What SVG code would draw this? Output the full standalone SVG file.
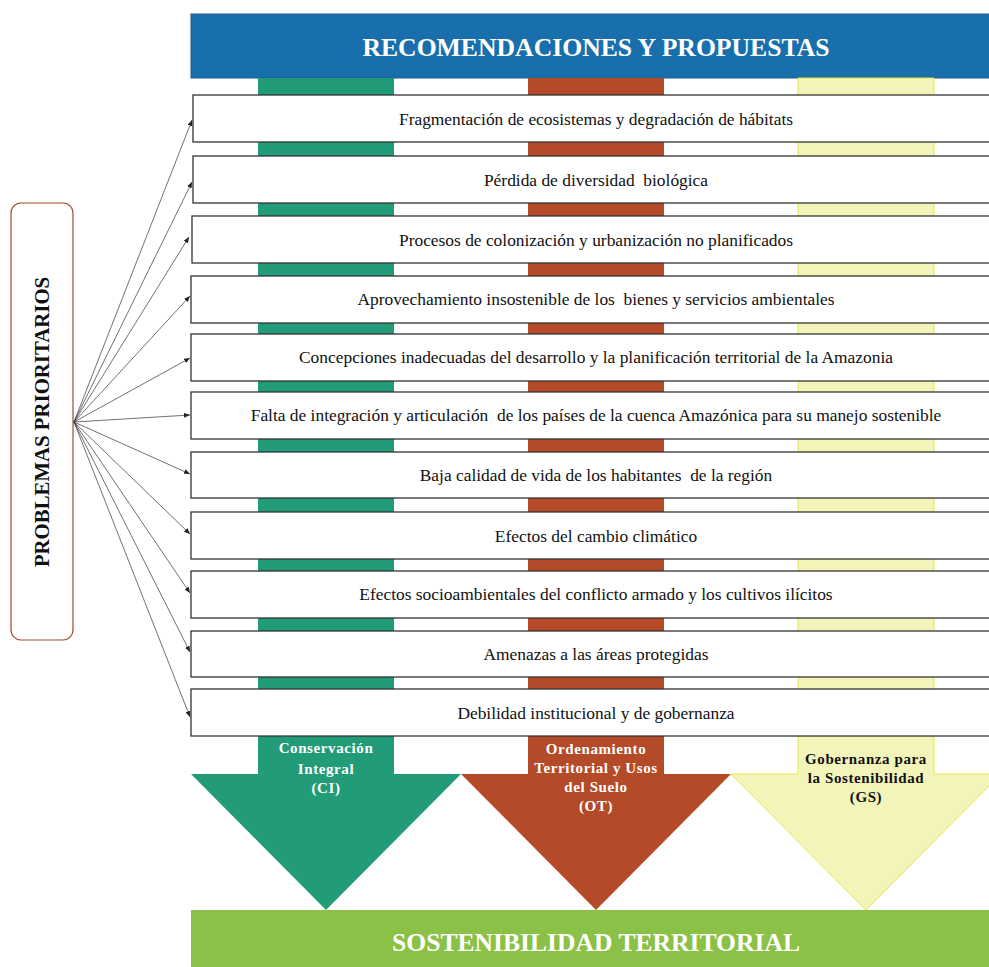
<svg xmlns="http://www.w3.org/2000/svg" width="989" height="967" viewBox="0 0 989 967">
<style>
.box{fill:#fff;stroke:#333;stroke-width:1.3}
.bt{font-family:"Liberation Serif",serif;font-size:17.4px;fill:#111;text-anchor:middle;white-space:pre}
.con{stroke:#333;stroke-width:0.7;fill:none;marker-end:url(#ah)}
.lab{font-family:"Liberation Serif",serif;font-size:15px;font-weight:bold;text-anchor:middle;letter-spacing:0.6px}
.ttl{font-family:"Liberation Serif",serif;font-weight:bold;fill:#fff;text-anchor:middle}
</style>
<defs>
<marker id="ah" markerWidth="6" markerHeight="5" refX="6" refY="2.5" orient="auto" markerUnits="userSpaceOnUse">
<path d="M0,0 L6,2.5 L0,5 z" fill="#222"/>
</marker>
</defs>
<rect width="989" height="967" fill="#fff"/>
<g id="header">
<rect x="191" y="14" width="810" height="64" fill="#186fab" stroke="#1b5e8e" stroke-width="1"/>
<text class="ttl" x="596" y="56" font-size="25.7">RECOMENDACIONES Y PROPUESTAS</text>
</g>
<g id="arrow-ci">
<polygon points="258,78 394,78 394,774 461,774 326,910 191,774 258,774" fill="#229b78"/>
</g>
<g id="arrow-ot">
<polygon points="528,78 664,78 664,774 731,774 596,910 461,774 528,774" fill="#b54a28"/>
</g>
<g id="arrow-gs">
<polygon points="798,78 934,78 934,774 1001,774 866,910 731,774 798,774" fill="#f2f4b9" stroke="#e9e54c" stroke-width="1"/>
</g>
<g id="row1"><rect class="box" x="193" y="95" width="808" height="47"/><text class="bt" x="596" y="125">Fragmentación de ecosistemas y degradación de hábitats</text></g>
<g id="row2"><rect class="box" x="193" y="156" width="808" height="47"/><text class="bt" x="596" y="186">Pérdida de diversidad  biológica</text></g>
<g id="row3"><rect class="box" x="192" y="216" width="809" height="47"/><text class="bt" x="596" y="246">Procesos de colonización y urbanización no planificados</text></g>
<g id="row4"><rect class="box" x="191" y="276" width="810" height="47"/><text class="bt" x="596" y="305">Aprovechamiento insostenible de los  bienes y servicios ambientales</text></g>
<g id="row5"><rect class="box" x="191" y="334" width="810" height="47"/><text class="bt" x="596" y="363">Concepciones inadecuadas del desarrollo y la planificación territorial de la Amazonia</text></g>
<g id="row6"><rect class="box" x="191" y="392" width="810" height="47"/><text class="bt" x="596" y="421">Falta de integración y articulación  de los países de la cuenca Amazónica para su manejo sostenible</text></g>
<g id="row7"><rect class="box" x="191" y="452" width="810" height="46"/><text class="bt" x="596" y="481">Baja calidad de vida de los habitantes  de la región</text></g>
<g id="row8"><rect class="box" x="191" y="512" width="810" height="47"/><text class="bt" x="596" y="542">Efectos del cambio climático</text></g>
<g id="row9"><rect class="box" x="191" y="571" width="810" height="47"/><text class="bt" x="596" y="600">Efectos socioambientales del conflicto armado y los cultivos ilícitos</text></g>
<g id="row10"><rect class="box" x="191" y="631" width="810" height="46"/><text class="bt" x="596" y="660">Amenazas a las áreas protegidas</text></g>
<g id="row11"><rect class="box" x="191" y="689" width="810" height="47"/><text class="bt" x="596" y="719">Debilidad institucional y de gobernanza</text></g>
<g id="labels">
<text class="lab" fill="#fff" x="326" y="753">Conservación</text>
<text class="lab" fill="#fff" x="326" y="774">Integral</text>
<text class="lab" fill="#fff" x="326" y="793">(CI)</text>
<text class="lab" fill="#fff" x="596" y="754">Ordenamiento</text>
<text class="lab" fill="#fff" x="596" y="773">Territorial y Usos</text>
<text class="lab" fill="#fff" x="596" y="792">del Suelo</text>
<text class="lab" fill="#fff" x="596" y="811">(OT)</text>
<text class="lab" fill="#111" x="866" y="764">Gobernanza para</text>
<text class="lab" fill="#111" x="866" y="783">la Sostenibilidad</text>
<text class="lab" fill="#111" x="866" y="802">(GS)</text>
</g>
<g id="problemas">
<rect x="11" y="203" width="62" height="437" rx="10" ry="10" fill="#fff" stroke="#a0492e" stroke-width="1.2"/>
<text class="ttl" style="fill:#111" font-size="20.8" transform="translate(49,422) rotate(-90)">PROBLEMAS PRIORITARIOS</text>
</g>
<g id="connectors">
<path class="con" d="M74,422 L192,120"/>
<path class="con" d="M74,422 L192,182"/>
<path class="con" d="M74,422 L189,237"/>
<path class="con" d="M74,422 L190,296"/>
<path class="con" d="M74,422 L190,358"/>
<path class="con" d="M74,422 L190,415"/>
<path class="con" d="M74,422 L190,474"/>
<path class="con" d="M74,422 L190,534"/>
<path class="con" d="M74,422 L190,593"/>
<path class="con" d="M74,422 L190,652"/>
<path class="con" d="M74,422 L190,717"/>
</g>
<g id="footer">
<rect x="191" y="910" width="810" height="60" fill="#8bc146"/>
<text class="ttl" x="596" y="951" font-size="25.6">SOSTENIBILIDAD TERRITORIAL</text>
</g>
</svg>
